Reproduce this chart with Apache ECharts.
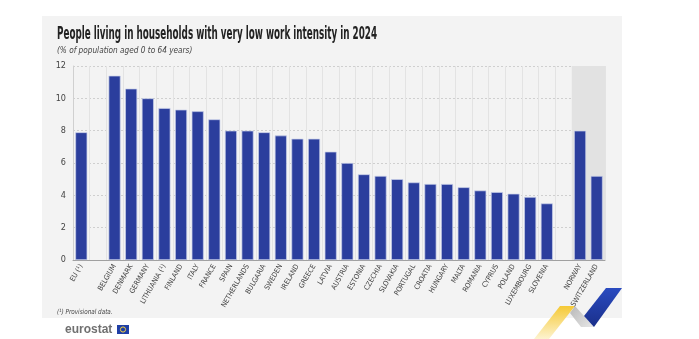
<!DOCTYPE html>
<html>
<head>
<meta charset="utf-8">
<script src="https://cdn.jsdelivr.net/npm/echarts@6/dist/echarts.min.js"></script>
<style>
html,body{margin:0;padding:0;background:#ffffff;}
#chart{width:699px;height:339px;}
</style>
</head>
<body>
<div id="chart"></div>
<script>
var categories = ['EU (¹)', '', 'BELGIUM', 'DENMARK', 'GERMANY', 'LITHUANIA (¹)', 'FINLAND', 'ITALY', 'FRANCE', 'SPAIN', 'NETHERLANDS', 'BULGARIA', 'SWEDEN', 'IRELAND', 'GREECE', 'LATVIA', 'AUSTRIA', 'ESTONIA', 'CZECHIA', 'SLOVAKIA', 'PORTUGAL', 'CROATIA', 'HUNGARY', 'MALTA', 'ROMANIA', 'CYPRUS', 'POLAND', 'LUXEMBOURG', 'SLOVENIA', ' ', 'NORWAY', 'SWITZERLAND'];
var values = [7.9, null, 11.4, 10.6, 10.0, 9.4, 9.3, 9.2, 8.7, 8.0, 8.0, 7.9, 7.7, 7.5, 7.5, 6.7, 6.0, 5.3, 5.2, 5.0, 4.8, 4.7, 4.7, 4.5, 4.3, 4.2, 4.1, 3.9, 3.5, null, 8.0, 5.2];
var shadedCategories = ['NORWAY', 'SWITZERLAND'];
var yTicks = [0, 2, 4, 6, 8, 10, 12];

var titleText = 'People living in households with very low work intensity in 2024';
var subtitleText = '(% of population aged 0 to 64 years)';
var footnoteText = '(¹) Provisional data.';

var shadeValues = categories.map(function (c) { return shadedCategories.indexOf(c) >= 0 ? yTicks[yTicks.length - 1] : null; });

var chart = echarts.init(document.getElementById('chart'), null, {renderer: 'canvas'});
var narrow = '"Liberation Sans Narrow","DejaVu Sans Condensed","Roboto Condensed",sans-serif';

chart.setOption({
  animation: false,
  backgroundColor: '#ffffff',
  grid: {left: 73, right: 94, top: 66, bottom: 79, containLabel: false},
  graphic: [
    {type: 'rect', z: -10, shape: {x: 42, y: 16, width: 580, height: 302}, style: {fill: '#f3f3f3'}},
    {type: 'text', x: 57, y: 26, scaleX: 0.575, style: {text: titleText, font: 'bold 17px ' + narrow, fill: '#222222'}},
    {type: 'text', x: 57, y: 46, scaleX: 0.86, style: {text: subtitleText, font: 'italic 9.5px ' + narrow, fill: '#444444'}},
    {type: 'text', x: 57, y: 309, scaleX: 0.9, style: {text: footnoteText, font: 'italic 7px ' + narrow, fill: '#444444'}},
    {type: 'text', x: 65, y: 324, style: {text: 'eurostat', font: 'bold 12px "Liberation Sans",Arial,sans-serif', fill: '#707070'}},
    {type: 'rect', shape: {x: 117, y: 325, width: 12, height: 9}, style: {fill: '#1f3fa6'}},
    {type: 'circle', shape: {cx: 123, cy: 329.5, r: 2.6}, style: {fill: 'none', stroke: '#f4d03f', lineWidth: 1}},
    {type: 'polygon', shape: {points: [[560, 306], [575, 306], [549, 339], [534, 339]]},
      style: {fill: {type: 'linear', x: 0, y: 0, x2: 0, y2: 1, colorStops: [{offset: 0, color: '#f5c935'}, {offset: 1, color: '#fdf3d0'}]}}},
    {type: 'polygon', shape: {points: [[575, 306], [584, 316], [594, 327], [581, 327], [570, 313]]},
      style: {fill: {type: 'linear', x: 0, y: 0, x2: 1, y2: 1, colorStops: [{offset: 0, color: '#b8b8b8'}, {offset: 1, color: '#e8e8e8'}]}}},
    {type: 'polygon', shape: {points: [[606, 288], [622, 288], [594, 327], [584, 316]]},
      style: {fill: {type: 'linear', x: 0, y: 0, x2: 0, y2: 1, colorStops: [{offset: 0, color: '#2a4bc0'}, {offset: 1, color: '#1a2f8a'}]}}}
  ],
  xAxis: [
    {
      type: 'category', data: categories, boundaryGap: true,
      axisLine: {show: true, lineStyle: {color: '#a0a0a0', width: 1}},
      axisTick: {show: false},
      splitLine: {show: true, interval: 0, lineStyle: {color: '#e3e3e3', width: 1}},
      axisLabel: {interval: 0, rotate: 60, margin: 5, color: '#444444', fontSize: 7.2, fontFamily: narrow}
    },
    {
      type: 'category', data: categories, boundaryGap: true, show: false
    }
  ],
  yAxis: {
    type: 'value', min: 0, max: 12, interval: 2,
    axisLine: {show: true, lineStyle: {color: '#d0d0d0'}},
    axisTick: {show: false},
    axisLabel: {color: '#444444', fontSize: 9, margin: 7, fontFamily: narrow},
    splitLine: {show: true, lineStyle: {color: '#cfcfcf', type: [2, 2], width: 1}}
  },
  series: [
    {
      type: 'bar', xAxisIndex: 1, data: shadeValues, barWidth: '100%', silent: true, z: 0,
      itemStyle: {color: '#e2e2e2'}
    },
    {
      type: 'bar', xAxisIndex: 0, data: values, barWidth: 12, z: 3,
      itemStyle: {color: '#2b3e9d', borderColor: '#c9d0ea', borderWidth: 0.7}
    }
  ]
});
</script>
</body>
</html>
